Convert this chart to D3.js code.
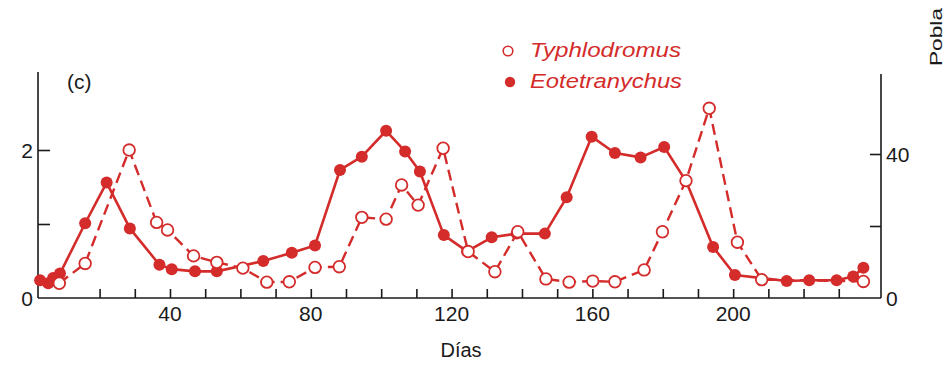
<!DOCTYPE html>
<html>
<head>
<meta charset="utf-8">
<script src="https://cdn.jsdelivr.net/npm/d3@7"></script>
<style>
  html, body { margin: 0; padding: 0; background: #fff; }
  svg { display: block; font-family: "Liberation Sans", Arial, sans-serif; }
</style>
</head>
<body>
<svg id="chart" width="948" height="382"></svg>
<script>
// ---- data ----
const eotetranychusDays = [3.1, 5.4, 6.8, 8.75, 15.9, 22.0, 28.6, 37.0, 40.5, 47.1, 53.3, 66.5, 74.6, 81.2, 88.3, 94.5, 101.4, 106.8, 111.0, 117.8, 124.4, 131.4, 138.5, 146.5, 152.7, 159.8, 166.4, 173.7, 180.4, 186.6, 194.3, 200.5, 215.2, 221.6, 229.4, 234.1, 237.0];
const eotetranychusValues = [0.24, 0.20, 0.27, 0.33, 1.01, 1.56, 0.94, 0.45, 0.39, 0.36, 0.36, 0.50, 0.61, 0.71, 1.73, 1.91, 2.26, 1.98, 1.71, 0.85, 0.63, 0.82, 0.87, 0.87, 1.36, 2.18, 1.96, 1.90, 2.04, 1.58, 0.69, 0.31, 0.23, 0.24, 0.24, 0.29, 0.41];

const typhlodromusDays = [8.55, 15.9, 28.4, 36.2, 39.3, 46.7, 53.3, 60.7, 67.5, 73.9, 81.2, 88.1, 94.5, 101.4, 105.8, 110.5, 117.6, 124.7, 132.3, 138.8, 146.8, 153.4, 160.1, 166.4, 174.7, 179.9, 186.6, 193.2, 201.2, 208.1, 237.0];
const typhlodromusValues = [4.1, 9.6, 41.1, 21.0, 18.9, 11.7, 9.9, 8.3, 4.4, 4.5, 8.5, 8.7, 22.4, 21.9, 31.4, 25.8, 41.6, 12.9, 7.3, 18.4, 5.3, 4.4, 4.7, 4.5, 7.8, 18.4, 32.6, 52.7, 15.5, 5.1, 4.6];

const xTickValues = [20, 30, 40, 50, 60, 70, 80, 90, 100, 110, 120, 130, 140, 150, 160, 170, 180, 190, 200, 210, 220, 230];
const xTickLabels = [40, 80, 120, 160, 200];
const leftTickValues = [1, 2];
const leftTickLabels = [0, 2];
const rightTickValues = [20, 40];
const rightTickLabels = [0, 40];

const seriesNames = ["Typhlodromus", "Eotetranychus"];
const panelLabel = "(c)";
const xTitle = "Días";
const rightTitle = "Pobla"; // only this much of the title is visible in the reference

// ---- layout ----
const RED = "#d42b2b";
const INK = "#1a1a1a";
const left = 38, right = 881, base = 298, topL = 72, topR = 74;

const svg = d3.select("#chart");

const x = d3.scaleLinear().domain([2.5, 242]).range([left, right]);
const yL = d3.scaleLinear().domain([0, (base - topL) / 74]).range([base, topL]);
const yR = d3.scaleLinear().domain([0, (base - topR) / 3.6]).range([base, topR]);

// axes lines
const axG = svg.append("g").attr("stroke", INK).attr("stroke-width", 1.6).attr("fill", "none");
axG.append("line").attr("x1", left).attr("x2", right).attr("y1", base).attr("y2", base);
axG.append("line").attr("x1", left).attr("x2", left).attr("y1", topL).attr("y2", base);
axG.append("line").attr("x1", right).attr("x2", right).attr("y1", topR).attr("y2", base);

// x ticks (inside, upward)
const xAxis = d3.axisTop(x).tickValues(xTickValues).tickSize(9).tickFormat("");
const gx = svg.append("g").attr("transform", `translate(0,${base})`).call(xAxis);
gx.select(".domain").remove();
gx.selectAll("line").attr("stroke", INK).attr("stroke-width", 1.6);

svg.append("g").selectAll("text").data(xTickLabels).join("text")
  .attr("x", d => x(d)).attr("y", 321)
  .attr("text-anchor", "middle").attr("font-size", 21).attr("fill", INK)
  .text(d => d);

// left ticks (inside, to the right)
const lAxis = d3.axisRight(yL).tickValues(leftTickValues).tickSize(12).tickFormat("");
const gl = svg.append("g").attr("transform", `translate(${left},0)`).call(lAxis);
gl.select(".domain").remove();
gl.selectAll("line").attr("stroke", INK).attr("stroke-width", 1.6);
svg.append("g").selectAll("text").data(leftTickLabels).join("text")
  .attr("x", 33).attr("y", d => yL(d) + 7.5)
  .attr("text-anchor", "end").attr("font-size", 21).attr("fill", INK)
  .text(d => d);

// right ticks (inside, to the left)
const rAxis = d3.axisLeft(yR).tickValues(rightTickValues).tickSize(11).tickFormat("");
const gr = svg.append("g").attr("transform", `translate(${right},0)`).call(rAxis);
gr.select(".domain").remove();
gr.selectAll("line").attr("stroke", INK).attr("stroke-width", 1.6);
svg.append("g").selectAll("text").data(rightTickLabels).join("text")
  .attr("x", 886).attr("y", d => yR(d) + 8)
  .attr("text-anchor", "start").attr("font-size", 21).attr("fill", INK)
  .text(d => d);

// titles
svg.append("text").attr("x", 461).attr("y", 357).attr("text-anchor", "middle")
  .attr("font-size", 20).attr("fill", INK).text(xTitle);
svg.append("text").attr("transform", "translate(942,66) rotate(-90)")
  .attr("font-size", 17).attr("fill", INK)
  .attr("textLength", 58).attr("lengthAdjust", "spacingAndGlyphs").text(rightTitle);
svg.append("text").attr("x", 67).attr("y", 89).attr("font-size", 21).attr("fill", INK).text(panelLabel);

// series
const eot = eotetranychusDays.map((d, i) => ({ x: d, y: eotetranychusValues[i] }));
const typ = typhlodromusDays.map((d, i) => ({ x: d, y: typhlodromusValues[i] }));

const lineL = d3.line().x(d => x(d.x)).y(d => yL(d.y));
const lineR = d3.line().x(d => x(d.x)).y(d => yR(d.y));

svg.append("path").datum(eot).attr("d", lineL)
  .attr("fill", "none").attr("stroke", RED).attr("stroke-width", 2.6).attr("stroke-linejoin", "round");
svg.append("path").datum(typ).attr("d", lineR)
  .attr("fill", "none").attr("stroke", RED).attr("stroke-width", 2.4)
  .attr("stroke-dasharray", "11,6");

svg.append("g").selectAll("circle").data(eot).join("circle")
  .attr("cx", d => x(d.x)).attr("cy", d => yL(d.y)).attr("r", 6)
  .attr("fill", RED);
svg.append("g").selectAll("circle").data(typ).join("circle")
  .attr("cx", d => x(d.x)).attr("cy", d => yR(d.y)).attr("r", 5.8)
  .attr("fill", "#fff").attr("stroke", RED).attr("stroke-width", 1.8);

// legend
const legend = svg.append("g");
legend.append("circle").attr("cx", 508).attr("cy", 51).attr("r", 4.8)
  .attr("fill", "#fff").attr("stroke", RED).attr("stroke-width", 1.6);
legend.append("circle").attr("cx", 510).attr("cy", 82).attr("r", 5.2).attr("fill", RED);
legend.append("text").attr("x", 530).attr("y", 57).attr("font-size", 20)
  .attr("font-style", "italic").attr("fill", RED)
  .attr("textLength", 151).attr("lengthAdjust", "spacingAndGlyphs").text(seriesNames[0]);
legend.append("text").attr("x", 530).attr("y", 88).attr("font-size", 20)
  .attr("font-style", "italic").attr("fill", RED)
  .attr("textLength", 152).attr("lengthAdjust", "spacingAndGlyphs").text(seriesNames[1]);
</script>
</body>
</html>
